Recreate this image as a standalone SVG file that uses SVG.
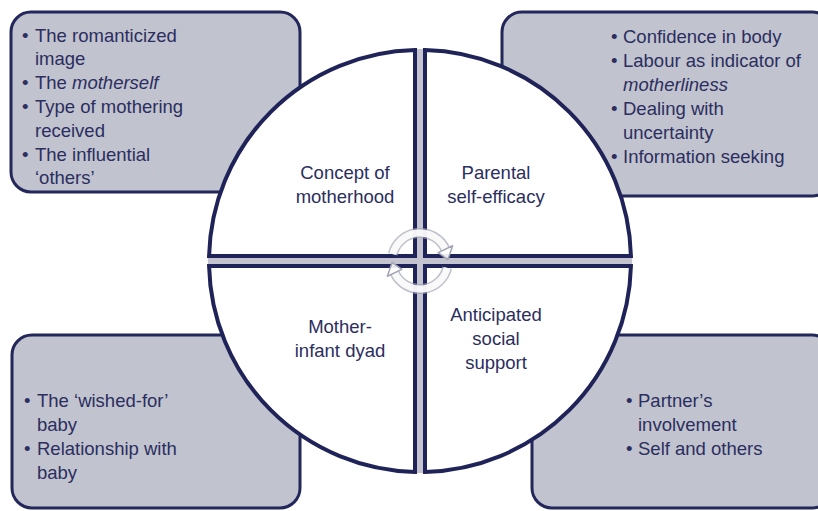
<svg xmlns="http://www.w3.org/2000/svg" width="818" height="511" viewBox="0 0 818 511">
  <style>
    .box { fill: #c1c3cf; stroke: #23275a; stroke-width: 3; }
    .wedge { fill: #ffffff; stroke: #1f2357; stroke-width: 4; stroke-linejoin: miter; }
    .txt { font-family: "Liberation Sans", Arial, Helvetica, sans-serif; font-size: 18.5px; fill: #2b2e5e; }
    .mid { text-anchor: middle; }
    .it { font-style: italic; }
    .ring-edge { fill: none; stroke: #a3a5b4; stroke-width: 10; stroke-opacity: 0.7; }
    .ring-core { fill: none; stroke: #ffffff; stroke-width: 7; stroke-opacity: 0.9; }
    .head { fill: #ffffff; fill-opacity: 0.9; stroke: #a3a5b4; stroke-width: 1.5; stroke-linejoin: round; }
  </style>

  <rect width="818" height="511" fill="#ffffff"/>

  <!-- corner boxes listing the themes of each quadrant -->
  <g id="box-concept">
    <rect class="box" x="11" y="12" width="289" height="180" rx="20"/>
    <text class="txt" x="22" y="41.5">•</text>
    <text class="txt" x="35" y="41.5">The romanticized</text>
    <text class="txt" x="35" y="65">image</text>
    <text class="txt" x="22" y="88.5">•</text>
    <text class="txt" x="35" y="88.5">The <tspan class="it">motherself</tspan></text>
    <text class="txt" x="22" y="112.5">•</text>
    <text class="txt" x="35" y="112.5">Type of mothering</text>
    <text class="txt" x="35" y="136.5">received</text>
    <text class="txt" x="22" y="160.5">•</text>
    <text class="txt" x="35" y="160.5">The influential</text>
    <text class="txt" x="35" y="184">‘others’</text>
  </g>

  <g id="box-efficacy">
    <rect class="box" x="502" y="12" width="330" height="184" rx="20"/>
    <text class="txt" x="611" y="42.5">•</text>
    <text class="txt" x="623" y="42.5">Confidence in body</text>
    <text class="txt" x="611" y="66.5">•</text>
    <text class="txt" x="623" y="66.5">Labour as indicator of</text>
    <text class="txt it" x="623" y="90.5">motherliness</text>
    <text class="txt" x="611" y="114.5">•</text>
    <text class="txt" x="623" y="114.5">Dealing with</text>
    <text class="txt" x="623" y="138.5">uncertainty</text>
    <text class="txt" x="611" y="162.5">•</text>
    <text class="txt" x="623" y="162.5">Information seeking</text>
  </g>

  <g id="box-dyad">
    <rect class="box" x="12" y="335" width="288" height="173" rx="20"/>
    <text class="txt" x="24" y="407">•</text>
    <text class="txt" x="37" y="407">The ‘wished-for’</text>
    <text class="txt" x="37" y="431">baby</text>
    <text class="txt" x="24" y="455">•</text>
    <text class="txt" x="37" y="455">Relationship with</text>
    <text class="txt" x="37" y="478.5">baby</text>
  </g>

  <g id="box-support">
    <rect class="box" x="532" y="335" width="300" height="173" rx="20"/>
    <text class="txt" x="626" y="407">•</text>
    <text class="txt" x="638" y="407">Partner’s</text>
    <text class="txt" x="638" y="431">involvement</text>
    <text class="txt" x="626" y="455">•</text>
    <text class="txt" x="638" y="455">Self and others</text>
  </g>

  <!-- light seam showing between the four quadrants -->
  <g id="seams" stroke="#c3c4d0" stroke-width="6" fill="none">
    <line x1="420" y1="49" x2="420" y2="473"/>
    <line x1="208" y1="261" x2="632" y2="261"/>
  </g>

  <!-- the four quadrants of the circle -->
  <g id="q-concept">
    <path class="wedge" d="M415,256 L415,50.06 A211,211 0 0 0 209.06,256 Z"/>
    <text class="txt mid" x="345" y="179">Concept of</text>
    <text class="txt mid" x="345" y="203">motherhood</text>
  </g>
  <g id="q-efficacy">
    <path class="wedge" d="M425,256 L630.94,256 A211,211 0 0 0 425,50.06 Z"/>
    <text class="txt mid" x="496" y="179">Parental</text>
    <text class="txt mid" x="496" y="203">self-efficacy</text>
  </g>
  <g id="q-dyad">
    <path class="wedge" d="M415,266 L209.06,266 A211,211 0 0 0 415,471.94 Z"/>
    <text class="txt mid" x="340" y="333">Mother-</text>
    <text class="txt mid" x="340" y="357">infant dyad</text>
  </g>
  <g id="q-support">
    <path class="wedge" d="M425,266 L425,471.94 A211,211 0 0 0 630.94,266 Z"/>
    <text class="txt mid" x="496" y="321">Anticipated</text>
    <text class="txt mid" x="496" y="345">social</text>
    <text class="txt mid" x="496" y="369">support</text>
  </g>

  <!-- cycle arrows at the centre (radius 28) -->
  <g id="connectors">
    <path class="ring-edge" d="M392.8,254.2 A28,28 0 0 1 445.4,249.2"/>
    <path class="ring-edge" d="M447.2,267.8 A28,28 0 0 1 394.6,272.8"/>
    <path class="ring-core" d="M392.8,254.2 A28,28 0 0 1 445.4,249.2"/>
    <path class="ring-core" d="M447.2,267.8 A28,28 0 0 1 394.6,272.8"/>
    <polygon class="head" points="452.6,245.8 438.2,252.6 447.9,259.6"/>
    <polygon class="head" points="387.4,276.2 401.8,269.4 392.1,262.4"/>
  </g>
</svg>
